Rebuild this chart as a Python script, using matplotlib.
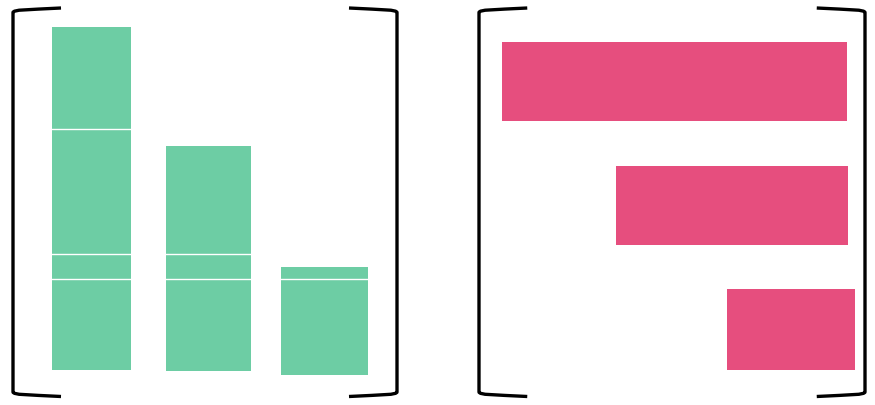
import numpy as np
import matplotlib
matplotlib.use('Agg')
import matplotlib.pyplot as plt
from matplotlib.path import Path
from matplotlib.patches import PathPatch

# left panel: vertical bars (value units from the baseline of the frame)
col_pos = [0, 1, 2]
col_bottom = [26.5, 25.5, 21.5]
col_top = [369.5, 250.5, 129.5]
col_width = [0.68, 0.73, 0.75]
grid_levels = [267.5, 142.5, 117.5]

# right panel: horizontal bars
row_pos = [0, 1, 2]
row_start = [23, 137, 248]
row_length = [345, 232, 128]
row_height = [0.64, 0.63, 0.65]

green = '#6dcda4'
pink = '#e64e7e'

W, H = 875, 406
fig = plt.figure(figsize=(W / 100, H / 100), dpi=100)
fig.patch.set_facecolor('white')

def px_axes(x0, x1, y0, y1):
    # y0 / y1 are pixel rows from the top
    return fig.add_axes([x0 / W, 1 - y1 / H, (x1 - x0) / W, (y1 - y0) / H])

def bracket(ax, side, arm=0.125, d=0.012, lw=2.4):
    # square bracket drawn along one side of the axes box
    if side == 'left':
        x0, xe = 0.0, arm
    else:
        x0, xe = 1.0, 1.0 - arm
    verts = [(xe, 1.0), (x0 + (xe - x0) * 0.3, 1.0 - 0.4 * d), (x0, 1.0 - 0.3 * d), (x0, 1.0 - d),
             (x0, d),
             (x0, 0.3 * d), (x0 + (xe - x0) * 0.3, 0.4 * d), (xe, 0.0)]
    codes = [Path.MOVETO, Path.CURVE4, Path.CURVE4, Path.CURVE4,
             Path.LINETO,
             Path.CURVE4, Path.CURVE4, Path.CURVE4]
    p = PathPatch(Path(verts, codes), transform=ax.transAxes, fill=False,
                  edgecolor='black', linewidth=lw, capstyle='butt', joinstyle='round',
                  clip_on=False, zorder=10)
    ax.add_patch(p)

ax1 = px_axes(13, 397, 9, 397.5)
heights = np.array(col_top) - np.array(col_bottom)
ax1.bar(col_pos, heights, bottom=col_bottom, width=col_width, color=green, zorder=1)
for g in grid_levels:
    ax1.axhline(g, color='white', linewidth=1.0, zorder=2)
ax1.set_xlim(-0.674, 2.622)
ax1.set_ylim(0, 388.5)

ax2 = px_axes(479, 865, 9, 397.5)
ax2.barh(row_pos, row_length, left=row_start, height=row_height, color=pink, zorder=1)
ax2.set_xlim(0, 386)
ax2.set_ylim(2.540, -0.593)

for ax in (ax1, ax2):
    ax.axis('off')
    bracket(ax, 'left')
    bracket(ax, 'right')

fig.savefig('out.png', dpi=100, facecolor='white')
